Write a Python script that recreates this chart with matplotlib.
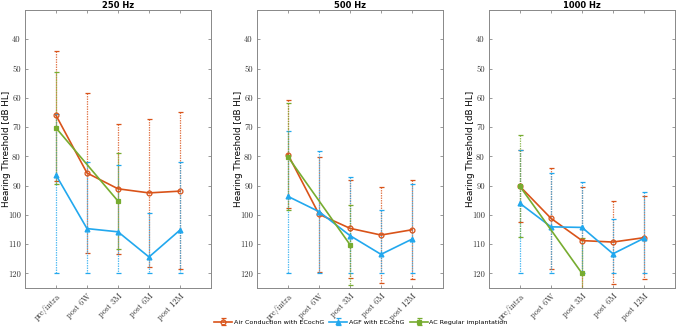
import numpy as np
import matplotlib
matplotlib.use('Agg')
import matplotlib.pyplot as plt

# timepoints
labels = ['pre/intra', 'post 6W', 'post 3M', 'post 6M', 'post 12M']
x = [1, 2, 3, 4, 5]
x_reg = [1, 3]   # regular implantation only measured at pre and 3M
freqs = ['250 Hz', '500 Hz', '1000 Hz']

# Air Conduction with ECochG: mean, upper end, lower end of bar
ac_mean = [[66.0, 85.7, 91.1, 92.5, 91.9],
           [79.4, 99.8, 104.6, 106.9, 105.1],
           [90.3, 101.2, 108.8, 109.3, 107.8]]
ac_top = [[44.1, 58.3, 68.8, 67.2, 64.9],
          [60.9, 80.2, 88.2, 90.6, 88.2],
          [77.9, 84.1, 90.4, 95.2, 93.7]]
ac_bot = [[88.5, 113.1, 113.4, 117.8, 118.6],
          [97.8, 119.5, 121.5, 123.4, 121.8],
          [102.6, 118.5, 130.0, 123.6, 122.0]]

# AGF with ECochG
agf_mean = [[86.4, 104.7, 105.8, 114.4, 105.2],
            [93.7, 98.9, 107.1, 113.5, 108.3],
            [96.1, 104.1, 104.3, 113.3, 108.0]]
agf_top = [[65.5, 81.9, 83.0, 99.4, 82.0],
           [71.4, 78.3, 87.0, 98.2, 89.6],
           [77.9, 85.7, 88.8, 101.3, 92.2]]
agf_bot = [[120, 120, 120, 120, 120],
           [120, 120, 120, 120, 120],
           [120, 120, 120, 120, 120]]

# AC Regular implantation
reg_mean = [[70.3, 95.3], [80.2, 110.2], [90.3, 120.0]]
reg_top = [[51.2, 78.9], [61.9, 96.7], [72.8, 108.0]]
reg_bot = [[89.4, 111.6], [98.2, 124.0], [107.6, 132.0]]

c_ac = '#D95319'
c_agf = '#22A8EE'
c_reg = '#77AC30'

W, H = 676, 332
fig = plt.figure(figsize=(W/100, H/100), dpi=100)

lefts = [25, 257, 489]
handles = []
for i in range(3):
    ax = fig.add_axes([lefts[i]/W, 44/H, 186/W, 278/H])
    series = [
        (x, ac_mean[i], ac_top[i], ac_bot[i], c_ac, 'o', 'Air Conduction with ECochG', 'none'),
        (x, agf_mean[i], agf_top[i], agf_bot[i], c_agf, '^', 'AGF with ECochG', c_agf),
        (x_reg, reg_mean[i], reg_top[i], reg_bot[i], c_reg, 's', 'AC Regular implantation', c_reg),
    ]
    hs = []
    for xs, m, t, b, col, mk, lab, mfc in series:
        m = np.array(m)
        yerr = [m - np.array(t), np.array(b) - m]
        eb = ax.errorbar(xs, m, yerr=yerr, fmt='-', marker=mk, color=col,
                         lw=1.2, ms=3.5, mfc=mfc, mec=col, mew=0.9,
                         elinewidth=0.9, capsize=1.8, capthick=0.9, label=lab)
        eb[2][0].set_linestyle((0, (1.2, 0.8)))
        eb[2][0].set_alpha(0.75)
        hs.append(eb)
    handles = hs

    ax.set_xlim(0, 6)
    ax.set_ylim(125, 30)
    ax.set_yticks(range(40, 121, 10))
    ax.set_xticks(x)
    ax.set_xticklabels(labels, rotation=45, ha='right', rotation_mode='anchor',
                       fontfamily='cmr10', fontsize=6, color='#333333')
    for tl in ax.get_yticklabels():
        tl.set_fontfamily('cmr10')
        tl.set_fontsize(6.2)
        tl.set_color('#333333')
    ax.tick_params(direction='in', length=2.5, width=0.6, top=True, right=True,
                   colors='#888888', labelcolor='#333333', pad=3)
    for sp in ax.spines.values():
        sp.set_color('#888888')
        sp.set_linewidth(0.7)
    ax.set_title(freqs[i], fontsize=6, fontweight='bold', pad=1.5)
    ax.set_ylabel('Hearing Threshold [dB HL]', fontsize=6.3)
    ax.yaxis.set_label_coords(-0.075, 0.5)

fig.legend(handles, [h.get_label() for h in handles], ncol=3, loc='center',
           bbox_to_anchor=(361/W, 1 - 322/H), frameon=False, fontsize=4.6,
           handlelength=2.8, columnspacing=0.8, handletextpad=0.3)

fig.savefig('out.png', dpi=100)
